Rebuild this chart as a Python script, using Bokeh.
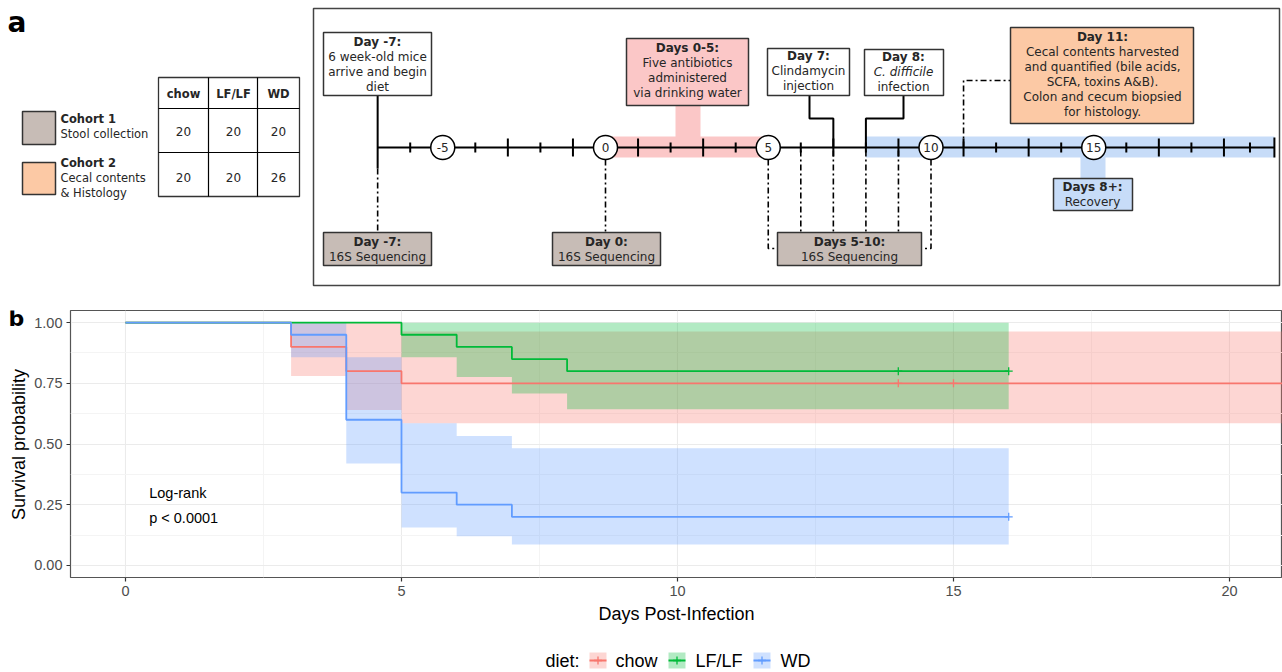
import math
from bokeh.plotting import figure
from bokeh.models import Range1d, FixedTicker, PrintfTickFormatter
from bokeh.layouts import row
from bokeh.embed import file_html
from bokeh.resources import INLINE
from bokeh.core.properties import value

# ---------------- data ----------------
diets = ["chow", "LF/LF", "WD"]
diet_colors = ["#F8766D", "#00BA38", "#619CFF"]

cohort_names = ["Cohort 1", "Cohort 2"]
cohort_desc = [["Stool collection"], ["Cecal contents", "& Histology"]]
cohort_n = [[20, 20, 20], [20, 20, 26]]

chow_time = [0, 3, 4, 5, 22]
chow_surv = [1.0, 0.90, 0.80, 0.75, 0.75]
chow_lower = [1.0, 0.78, 0.64, 0.586]
chow_upper = [1.0, 1.0, 1.0, 0.963]
chow_censor = [14, 15]

lflf_time = [0, 5, 6, 7, 8, 16]
lflf_surv = [1.0, 0.95, 0.90, 0.85, 0.80, 0.80]
lflf_lower = [1.0, 0.857, 0.776, 0.708, 0.643]
lflf_upper = [1.0, 1.0, 1.0, 1.0, 1.0]
lflf_censor = [14, 16]

wd_time = [0, 3, 4, 5, 6, 7, 16]
wd_surv = [1.0, 0.95, 0.60, 0.30, 0.25, 0.20, 0.20]
wd_lower = [1.0, 0.857, 0.42, 0.156, 0.12, 0.086]
wd_upper = [1.0, 1.0, 0.857, 0.586, 0.533, 0.483]
wd_censor = [16]

x_ticks = [0, 5, 10, 15, 20]
x_minor = [2.5, 7.5, 12.5, 17.5]
y_ticks = [0.0, 0.25, 0.5, 0.75, 1.0]
y_minor = [0.125, 0.375, 0.625, 0.875]
logrank_text = ["Log-rank", "p < 0.0001"]

# timeline (days)
timeline_first_day = -7
timeline_last_day = 20.55
circle_days = [-5, 0, 5, 10, 15]
major_tick_days = [-3, -1, 1, 3, 7, 9, 11, 13, 17, 19]
minor_tick_days = [-6, -4, -2, 2, 4, 6, 8, 12, 14, 16, 18, 19.8]
antibiotic_days = [0, 5]
recovery_start_day = 8
seq_window_days = [6, 7, 8, 9]

top_notes = [
    ["Day -7:", "6 week-old mice", "arrive and begin", "diet"],
    ["Days 0-5:", "Five antibiotics", "administered", "via drinking water"],
    ["Day 7:", "Clindamycin", "injection"],
    ["Day 8:", "C. difficile", "infection"],
    ["Day 11:", "Cecal contents harvested", "and quantified (bile acids,",
     "SCFA, toxins A&B).", "Colon and cecum biopsied", "for histology."],
    ["Days 8+:", "Recovery"],
]
seq_notes = [["Day -7:", "16S Sequencing"], ["Day 0:", "16S Sequencing"],
             ["Days 5-10:", "16S Sequencing"]]

# ---------------- styles ----------------
GRAY = "#c7bcb6"
PINK = "#fbc7c7"
PEACH = "#fcc9a5"
BLUE = "#c7dcf8"
EDGE = "#333333"
TXT = "#262626"
FA = "DejaVu Sans"
FB = "Liberation Sans"

DAY0_X, DAY_PX, AXIS_Y = 605.0, 32.55, 147.0


def dx(d):
    return DAY0_X + DAY_PX * d


# ================= panel a =================
pa = figure(width=1282, height=295, x_range=Range1d(0, 1282), y_range=Range1d(295, 0),
            x_axis_location=None, y_axis_location=None, min_border=0,
            output_backend="svg", toolbar_location=None)
pa.grid.visible = False
pa.outline_line_color = None


def box(l, r, t, b, fill, lw=1.5):
    pa.quad(left=[l], right=[r], top=[t], bottom=[b], fill_color=fill,
            line_color=EDGE, line_width=lw)


def txt(x, y, s, style="normal", size="12px", align="center", font=FA, color=TXT,
        baseline="middle"):
    pa.text(x=[x], y=[y], text=[s], text_font=value(font), text_font_size=size,
            text_font_style=style, text_align=align, text_baseline=baseline,
            text_color=color)


def seg(xs, ys, dash="solid", lw=1.6, color="black"):
    pa.line(xs, ys, line_color=color, line_width=lw, line_dash=dash)


DD = "6 3 2 3"

# panel letter
txt(7, 22, "a", style="bold", size="28px", align="left", color="black")

# cohort legend
box(22, 55, 111, 144, GRAY)
box(22, 55, 162, 194, PEACH)
yy = [[118, 133], [162, 177, 192]]
for i, name in enumerate(cohort_names):
    txt(60, yy[i][0], name, style="bold", size="11.5px", align="left")
    for j, d in enumerate(cohort_desc[i]):
        txt(60, yy[i][j + 1], d, size="11.5px", align="left")

# table
box(158, 299, 77, 196, "white", lw=1.3)
for xv in [208, 257]:
    seg([xv, xv], [77, 196], lw=1.2)
for yv in [108, 152]:
    seg([158, 299], [yv, yv], lw=1.2)
col_x = [183, 233, 278]
for k, dname in enumerate(diets):
    txt(col_x[k], 93, dname, style="bold", size="11.5px")
    for r, ry in enumerate([131, 177]):
        txt(col_x[k], ry, str(cohort_n[r][k]), size="12px")

# timeline frame
pa.quad(left=[313], right=[1279], top=[8], bottom=[285], fill_color=None,
        line_color="#444444", line_width=1.5)

# bands
pa.quad(left=[dx(antibiotic_days[0])], right=[dx(antibiotic_days[1])], top=[136], bottom=[157],
        fill_color=PINK, line_color=None)
pa.quad(left=[675], right=[700], top=[104], bottom=[137], fill_color=PINK, line_color=None)
pa.quad(left=[dx(recovery_start_day)], right=[dx(timeline_last_day)], top=[136], bottom=[157],
        fill_color=BLUE, line_color=None)
pa.quad(left=[1080], right=[1105], top=[156], bottom=[179], fill_color=BLUE, line_color=None)

# dash-dot sequencing connectors
seg([dx(-7), dx(-7)], [168, 231], dash=DD)
seg([dx(0), dx(0)], [159, 231], dash=DD)
seg([dx(5), dx(5), 777], [159, 248, 248], dash=DD)
seg([dx(10), dx(10), 921], [159, 248, 248], dash=DD)
for d in seq_window_days:
    seg([dx(d), dx(d)], [150, 231], dash=DD)
seg([dx(11), dx(11), 1010], [AXIS_Y, 80, 80], dash=DD)

# solid connectors
seg([dx(-7), dx(-7)], [95, 168], lw=2)
seg([809, 809, dx(7), dx(7)], [95, 118, 118, AXIS_Y], lw=2)
seg([903, 903, dx(8), dx(8)], [95, 118, 118, AXIS_Y], lw=2)

# axis line + ticks
seg([dx(timeline_first_day), dx(timeline_last_day)], [AXIS_Y, AXIS_Y], lw=2)
tick_x = [dx(d) for d in major_tick_days] + [dx(d) for d in minor_tick_days] + [dx(timeline_last_day)]
tick_h = [9] * len(major_tick_days) + [5] * len(minor_tick_days) + [10]
pa.segment(x0=tick_x, x1=tick_x, y0=[AXIS_Y - h for h in tick_h], y1=[AXIS_Y + h for h in tick_h],
           line_color="black", line_width=2)

# circles
pa.scatter([dx(d) for d in circle_days], [AXIS_Y] * len(circle_days), marker="circle",
           size=24, fill_color="white", line_color="black", line_width=1.5)
pa.text(x=[dx(d) for d in circle_days], y=[AXIS_Y] * len(circle_days),
        text=[str(d) for d in circle_days], text_font=value(FA), text_font_size="12px",
        text_align="center", text_baseline="middle", text_color=TXT)

# note boxes
top_geom = [
    (323, 431, 32, 95, "white", 41, 377),
    (626, 748, 38, 105, PINK, 47, 687),
    (767, 849, 48, 95, "white", 55, 808),
    (864, 943, 49, 95, "white", 56, 903),
    (1010, 1193, 27, 123, PEACH, 36, 1102),
    (1053, 1132, 178, 210, BLUE, 186, 1092),
]
for (l, r, t, b, fill, y0, cx), lines in zip(top_geom, top_notes):
    box(l, r, t, b, fill)
    for j, s in enumerate(lines):
        style = "bold" if j == 0 else ("italic" if s.startswith("C. diff") else "normal")
        txt(cx, y0 + 15 * j, s, style=style)

seq_geom = [(323, 431, 377), (552, 660, 606), (777, 921, 849)]
for (l, r, cx), lines in zip(seq_geom, seq_notes):
    box(l, r, 232, 265, GRAY)
    txt(cx, 241, lines[0], style="bold")
    txt(cx, 256, lines[1])

# ================= panel b =================
PB_H, PB_TOP, PB_BOT = 350, 15, 68

# narrow strip holding the panel letter and the y-axis title
bl = figure(width=30, height=PB_H, x_range=Range1d(0, 30), y_range=Range1d(577, 310),
            x_axis_location=None, y_axis_location=None, min_border_left=0, min_border_right=0,
            min_border_top=PB_TOP, min_border_bottom=PB_BOT,
            output_backend="svg", toolbar_location=None)
bl.grid.visible = False
bl.outline_line_color = None
bl.text(x=[8], y=[318], text=["b"], text_font=value(FA), text_font_size="22px",
        text_font_style="bold", text_align="left", text_baseline="middle", text_color="black")
bl.text(x=[18], y=[444], text=["Survival probability"], angle=math.pi / 2,
        text_font=value(FB), text_font_size="18px", text_align="center",
        text_baseline="middle", text_color="black")

pb = figure(width=1252, height=PB_H, x_range=Range1d(-0.996, 20.96), y_range=Range1d(-0.05, 1.05),
            min_border_left=40, min_border_right=0, min_border_top=PB_TOP,
            min_border_bottom=PB_BOT, output_backend="svg", toolbar_location=None)
pb.outline_line_color = "#555555"
pb.outline_line_width = 1.2

series = [
    (chow_time, chow_surv, chow_lower, chow_upper, chow_censor),
    (lflf_time, lflf_surv, lflf_lower, lflf_upper, lflf_censor),
    (wd_time, wd_surv, wd_lower, wd_upper, wd_censor),
]

for (t, s, lo, hi, cen), col in zip(series, diet_colors):
    xs, y1, y2 = [], [], []
    for i in range(len(lo)):
        xs += [t[i], t[i + 1]]
        y1 += [lo[i], lo[i]]
        y2 += [hi[i], hi[i]]
    pb.varea(x=xs, y1=y1, y2=y2, fill_color=col, fill_alpha=0.3)

for (t, s, lo, hi, cen), col in zip(series, diet_colors):
    pb.step(t, s, mode="after", line_color=col, line_width=1.8)
    last = s[-1]
    pb.scatter(cen, [last] * len(cen), marker="cross", size=8, line_color=col, line_width=1.3)

pb.text(x=[0.43, 0.43], y=[0.30, 0.197], text=logrank_text, text_font=value(FB),
        text_font_size="14.5px", text_align="left", text_baseline="middle", text_color="black")

pb.xaxis.ticker = FixedTicker(ticks=x_ticks, minor_ticks=x_minor)
pb.yaxis.ticker = FixedTicker(ticks=y_ticks, minor_ticks=y_minor)
pb.yaxis.formatter = PrintfTickFormatter(format="%.2f")
for ax in [pb.xaxis, pb.yaxis]:
    ax.axis_line_color = None
    ax.major_tick_line_color = "#333333"
    ax.major_tick_line_width = 1.2
    ax.major_tick_out = 4
    ax.major_tick_in = 0
    ax.minor_tick_line_color = None
    ax.major_label_text_font = FB
    ax.major_label_text_font_size = "14.5px"
    ax.major_label_text_color = "#4d4d4d"
    ax.major_label_standoff = 4
    ax.axis_label_text_font = FB
    ax.axis_label_text_font_size = "18px"
    ax.axis_label_text_font_style = "normal"
    ax.axis_label_text_color = "black"
    ax.axis_label_standoff = 5
pb.xaxis.axis_label = "Days Post-Infection"
pb.grid.grid_line_color = "#ebebeb"
pb.grid.grid_line_width = 1.1
pb.grid.minor_grid_line_color = "#f4f4f4"
pb.grid.minor_grid_line_width = 1

# ================= legend strip =================
pl = figure(width=1282, height=27, x_range=Range1d(0, 1282), y_range=Range1d(672, 645),
            x_axis_location=None, y_axis_location=None, min_border=0,
            output_backend="svg", toolbar_location=None)
pl.grid.visible = False
pl.outline_line_color = None
LY = 660
key_left = [589, 668, 753]
label_left = [615, 695, 780]
pl.text(x=[545], y=[LY], text=["diet:"], text_font=value(FB), text_font_size="18px",
        text_align="left", text_baseline="middle", text_color="black")
for k, (dname, col) in enumerate(zip(diets, diet_colors)):
    l = key_left[k]
    pl.quad(left=[l], right=[l + 17], top=[LY - 8], bottom=[LY + 8], fill_color=col,
            fill_alpha=0.3, line_color=None)
    pl.line([l, l + 17], [LY, LY], line_color=col, line_width=1.8)
    pl.scatter([l + 8.5], [LY], marker="cross", size=8, line_color=col, line_width=1.3)
    pl.text(x=[label_left[k]], y=[LY], text=[dname], text_font=value(FB), text_font_size="18px",
            text_align="left", text_baseline="middle", text_color="black")

open("out.html", "w").write(file_html([pa, row(bl, pb, spacing=0), pl], INLINE))
